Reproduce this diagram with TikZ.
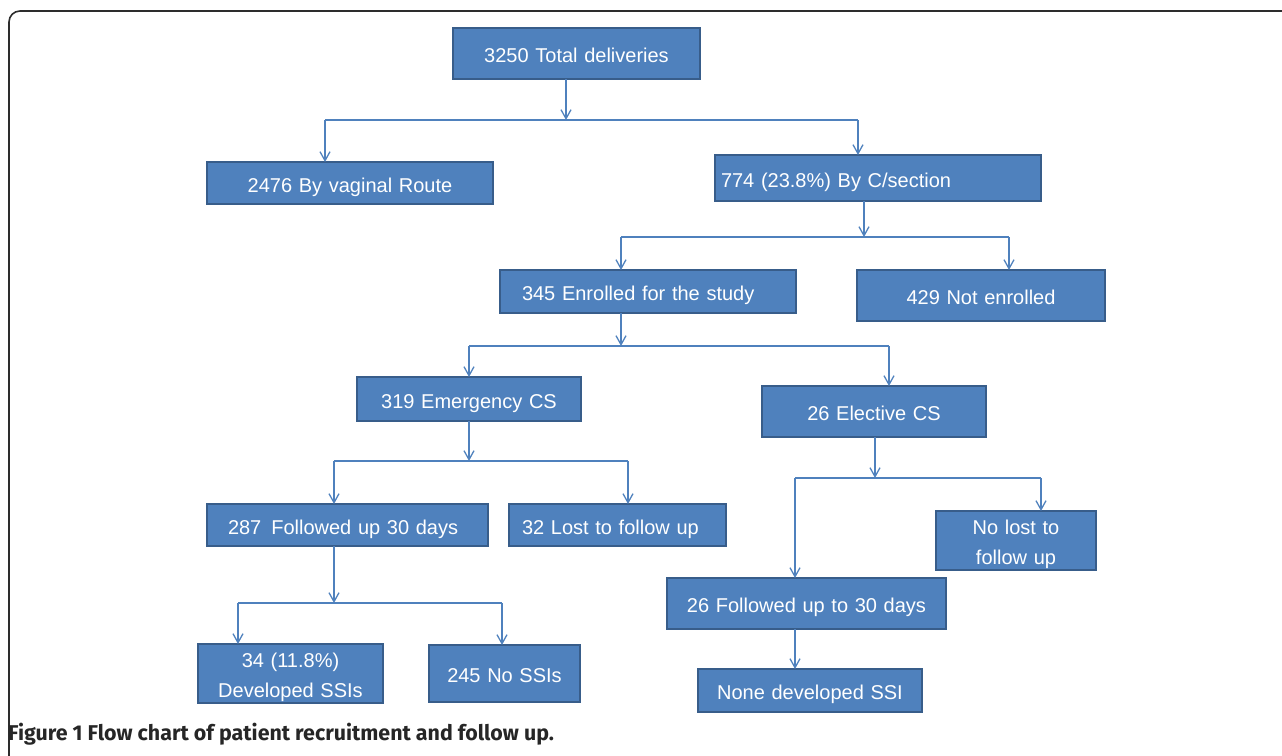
\documentclass[tikz,border=0pt]{standalone}
\usepackage{fontspec}
\setmainfont{Liberation Sans}
\newfontfamily\capfont{Fira Sans}
\usepackage{tikz}
\usetikzlibrary{arrows.meta}

\definecolor{boxfill}{RGB}{79,129,189}
\definecolor{boxline}{RGB}{56,93,138}
\definecolor{framegray}{RGB}{45,45,45}

\tikzset{
	flowbox/.style={draw=boxline, fill=boxfill, line width=2.5pt, text=white,
		font=\fontsize{20}{30}\selectfont, inner xsep=0pt, inner ysep=0pt,
		text height=18pt, text depth=0pt,
		outer sep=0pt, anchor=north west, align=center},
	twoline/.style={text height=18.5pt, text depth=30pt},
	link/.style={draw=boxfill, line width=1.3pt},
	linkarrow/.style={link, -{Straight Barb[length=9pt,width=10pt]}},
}

\begin{document}
\begin{tikzpicture}[x=1pt,y=-1pt]
	\useasboundingbox (0,0) rectangle (1282,755);
	\clip (0,0) rectangle (1282,755);
	
	%Frame
	\draw [framegray, line width=1.6pt, rounded corners=11pt] (9,11) rectangle (1330,800);
	
	%Boxes
	\node [flowbox, text width=247pt, minimum height=51pt] (tot) at (453,28) {3250 Total deliveries};
	\node [flowbox, text width=286pt, minimum height=42pt] (vag) at (207,162) {2476 By vaginal Route};
	\node [flowbox, inner xsep=6pt, text width=314pt, align=left, minimum height=46pt] (csec) at (715,155) {774 (23.8\%) By C/section};
	\node [flowbox, inner xsep=22pt, text width=252pt, align=left, minimum height=43pt] (enr) at (500,270) {345 Enrolled for the study};
	\node [flowbox, text width=248pt, minimum height=51pt] (noenr) at (857,270) {429 Not enrolled};
	\node [flowbox, text width=224pt, minimum height=44pt] (emg) at (357,377) {319 Emergency CS};
	\node [flowbox, text width=224pt, minimum height=51pt] (elec) at (762,386) {26 Elective CS};
	\node [flowbox, inner xsep=21pt, text width=239pt, align=left, minimum height=42pt] (fol) at (207,504) {287\ \,Followed up 30 days};
	\node [flowbox, inner xsep=13pt, text width=191pt, align=left, minimum height=42pt] (lost) at (509,504) {32 Lost to follow up};
	\node [flowbox, twoline, text width=160pt, minimum height=59pt] (nolost) at (936,511) {No lost to\\follow up};
	\node [flowbox, text width=279pt, minimum height=51pt] (fol2) at (667,578) {26 Followed up to 30 days};
	\node [flowbox, text width=224pt, minimum height=43pt] (none) at (698,669) {None developed SSI};
	\node [flowbox, twoline, text width=185pt, minimum height=59pt] (ssi) at (198,644) {34 (11.8\%)\\Developed SSIs};
	\node [flowbox, text width=151pt, minimum height=57pt] (nossi) at (429,645) {245 No SSIs};
	
	%Junction points
	\coordinate (j1) at (566,120); \coordinate (j1l) at (325,120); \coordinate (j1r) at (858,120);
	\coordinate (j2) at (864,237); \coordinate (j2l) at (621,237); \coordinate (j2r) at (1009,237);
	\coordinate (j3) at (621,346); \coordinate (j3l) at (469,346); \coordinate (j3r) at (889,346);
	\coordinate (j4) at (469,461); \coordinate (j4l) at (334,461); \coordinate (j4r) at (628,461);
	\coordinate (j5) at (875,478); \coordinate (j5l) at (795,478); \coordinate (j5r) at (1041,478);
	\coordinate (j6) at (334,603); \coordinate (j6l) at (238,603); \coordinate (j6r) at (502,603);
	\coordinate (j7) at (795,640);
	
	%Total deliveries split
	\draw [linkarrow] (j1 |- tot.south) -- (j1);
	\draw [link] (j1l) -- (j1r);
	\draw [linkarrow] (j1l) -- (j1l |- vag.north);
	\draw [linkarrow] (j1r) -- (j1r |- csec.north);
	%C/section split
	\draw [linkarrow] (j2 |- csec.south) -- (j2);
	\draw [link] (j2l) -- (j2r);
	\draw [linkarrow] (j2l) -- (j2l |- enr.north);
	\draw [linkarrow] (j2r) -- (j2r |- noenr.north);
	%Enrolled split
	\draw [linkarrow] (j3 |- enr.south) -- (j3);
	\draw [link] (j3l) -- (j3r);
	\draw [linkarrow] (j3l) -- (j3l |- emg.north);
	\draw [linkarrow] (j3r) -- (j3r |- elec.north);
	%Emergency split
	\draw [linkarrow] (j4 |- emg.south) -- (j4);
	\draw [link] (j4l) -- (j4r);
	\draw [linkarrow] (j4l) -- (j4l |- fol.north);
	\draw [linkarrow] (j4r) -- (j4r |- lost.north);
	%Elective split
	\draw [linkarrow] (j5 |- elec.south) -- (j5);
	\draw [link] (j5l) -- (j5r);
	\draw [linkarrow] (j5l) -- (j5l |- fol2.north);
	\draw [linkarrow] (j5r) -- (j5r |- nolost.north);
	%Followed up split
	\draw [linkarrow] (j6 |- fol.south) -- (j6);
	\draw [link] (j6l) -- (j6r);
	\draw [linkarrow] (j6l) -- (j6l |- ssi.north);
	\draw [linkarrow] (j6r) -- (j6r |- nossi.north);
	%Elective follow up
	\draw [linkarrow] (j7 |- fol2.south) -- (j7 |- none.north);
	
	% Text Node
	\node [anchor=base west, inner sep=0pt, font=\capfont\bfseries\fontsize{21.4}{26}\selectfont, text=black!85] (cap) at (8,740) {Figure 1 Flow chart of patient recruitment and follow up.};
\end{tikzpicture}
\end{document}
